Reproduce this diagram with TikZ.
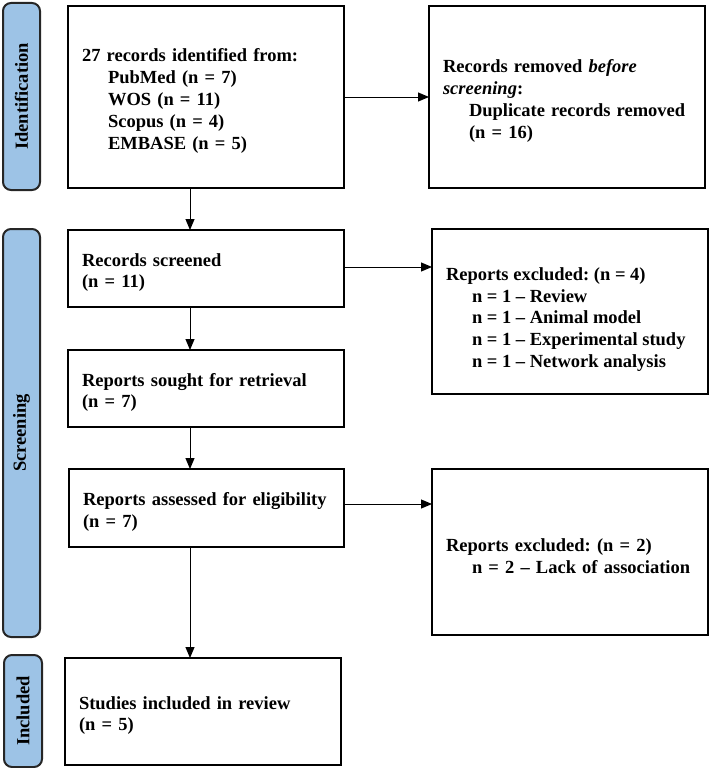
\documentclass[tikz,border=0pt]{standalone}
\usepackage{fontspec}
\setmainfont{Liberation Serif}
\usetikzlibrary{arrows.meta}
\definecolor{sidefill}{RGB}{157,195,230}
\frenchspacing
\newcommand{\topstrut}{\rule{0pt}{21pt}}
\begin{document}
\begin{tikzpicture}[x=1pt,y=-1pt,
  txt/.style={font=\bfseries\fontsize{18.5}{21.9}\selectfont},
  flowbox/.style={draw=black, line width=1.8pt, fill=white, txt, align=left, inner xsep=14pt, inner ysep=0pt, outer sep=0pt,
    execute at begin node={\topstrut}},
  plainbox/.style={draw=black, line width=1.8pt, fill=white, txt, inner xsep=14pt, inner ysep=0pt, outer sep=0pt},
  sidebox/.style={draw=black!85, line width=2pt, fill=sidefill, rounded corners=8pt, txt, rotate=90, inner sep=0pt, outer sep=0pt},
  arr/.style={line width=1pt, -{Triangle[length=11pt,width=9pt]}}
]
\useasboundingbox (0,0) rectangle (709,768);
\newcommand{\ind}{\hspace*{26pt}}
% sidebars
\node[sidebox, minimum width=187pt, minimum height=37pt] (s1) at (21.5,96.5) {Identification};
\node[sidebox, minimum width=408pt, minimum height=37pt] (s2) at (21.5,433) {Screening};
\node[sidebox, minimum width=112pt, minimum height=38pt] (s3) at (23,711) {Included};
% boxes
\node[flowbox, text width=248pt, minimum height=182pt] (b1) at (206,97)
  {27 records identified from:\\ \ind PubMed (n = 7)\\ \ind WOS (n = 11)\\ \ind Scopus (n = 4)\\ \ind EMBASE (n = 5)};
\node[flowbox, text width=248pt, minimum height=182pt] (rm) at (567,97)
  {Records removed \textit{before}\\ \textit{screening}:\\ \ind Duplicate records removed\\ \ind (n = 16)};
\node[flowbox, text width=248pt, minimum height=77pt] (sc) at (206,268.5)
  {Records screened\\ (n = 11)};
\node[flowbox, text width=248pt, minimum height=77pt] (so) at (206,388.5)
  {Reports sought for retrieval\\ (n = 7)};
\node[flowbox, text width=247pt, minimum height=78pt] (as) at (206.5,508)
  {Reports assessed for eligibility\\ (n = 7)};
\node[flowbox, text width=248pt, minimum height=107pt] (st) at (203,711.5)
  {Studies included in review\\ (n = 5)};
\node[plainbox, minimum width=276pt, minimum height=165pt] (ex4) at (570,311.5)
  {\parbox{248pt}{\vspace*{16pt}Reports excluded: (n = 4)\\ \ind n = 1 -- Review\\ \ind n = 1 -- Animal model\\ \ind n = 1 -- Experimental study\\ \ind n = 1 -- Network analysis}};
\node[flowbox, text width=248pt, minimum height=166pt] (ex2) at (570,552)
  {Reports excluded: (n = 2)\\ \ind n = 2 -- Lack of association};
% connectors
\coordinate (ax) at (190,0);
\draw[arr] (b1.east) -- (rm.west);
\draw[arr] (b1.south -| ax) -- (sc.north -| ax);
\draw[arr] (sc.south -| ax) -- (so.north -| ax);
\draw[arr] (so.south -| ax) -- (as.north -| ax);
\draw[arr] (as.south -| ax) -- (st.north -| ax);
\draw[arr] ([yshift=1.5pt]sc.east) -- ([yshift=1.5pt]sc.east -| ex4.west);
\draw[arr] ([yshift=4pt]as.east) -- ([yshift=4pt]as.east -| ex2.west);
\end{tikzpicture}
\end{document}
